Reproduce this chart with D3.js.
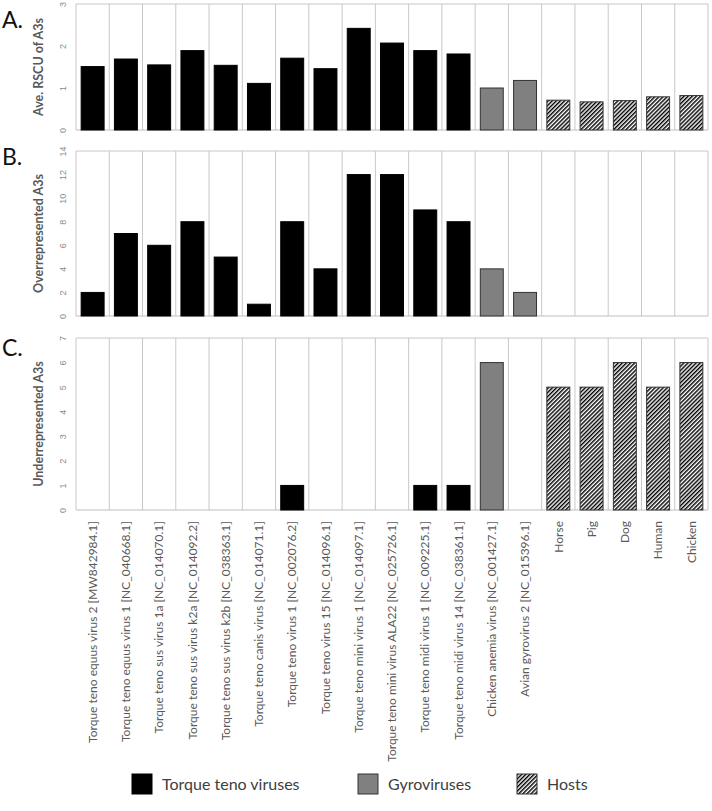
<!DOCTYPE html>
<html>
<head>
<meta charset="utf-8">
<script src="https://cdn.jsdelivr.net/npm/d3@7"></script>
<style>
	body { margin: 0; background: #fff; }
	svg { display: block; font-family: Lato, "Noto Sans", sans-serif; }
</style>
</head>
<body>
<svg id="chart"></svg>
<script>
// categories and their group (0 = torque teno, 1 = gyro, 2 = host)
const categories = [
	"Torque teno equus virus 2 [MW842984.1]",
	"Torque teno equus virus 1 [NC_040668.1]",
	"Torque teno sus virus 1a [NC_014070.1]",
	"Torque teno sus virus k2a [NC_014092.2]",
	"Torque teno sus virus k2b [NC_038363.1]",
	"Torque teno canis virus [NC_014071.1]",
	"Torque teno virus 1 [NC_002076.2]",
	"Torque teno virus 15 [NC_014096.1]",
	"Torque teno mini virus 1 [NC_014097.1]",
	"Torque teno mini virus ALA22 [NC_025726.1]",
	"Torque teno midi virus 1 [NC_009225.1]",
	"Torque teno midi virus 14 [NC_038361.1]",
	"Chicken anemia virus [NC_001427.1]",
	"Avian gyrovirus 2 [NC_015396.1]",
	"Horse", "Pig", "Dog", "Human", "Chicken"
];
const groups = [0,0,0,0,0,0,0,0,0,0,0,0,1,1,2,2,2,2,2];
const groupNames = ["Torque teno viruses", "Gyroviruses", "Hosts"];

const rscu = [1.51, 1.69, 1.55, 1.89, 1.54, 1.11, 1.71, 1.46, 2.42, 2.07, 1.89, 1.81, 1.00, 1.18, 0.71, 0.67, 0.70, 0.79, 0.82];
const overrep = [2, 7, 6, 8, 5, 1, 8, 4, 12, 12, 9, 8, 4, 2, 0, 0, 0, 0, 0];
const underrep = [0, 0, 0, 0, 0, 0, 1, 0, 0, 0, 1, 1, 6, 0, 5, 5, 6, 5, 6];

const ticksA = [0, 1, 2, 3];
const ticksB = [0, 2, 4, 6, 8, 10, 12, 14];
const ticksC = [0, 1, 2, 3, 4, 5, 6, 7];

const width = 712;
const height = 811;
const left = 76;
const right = 708;
const barPad = 0.31;

const svg = d3.select("#chart")
              .attr("width", width)
              .attr("height", height);

// hatch pattern for hosts
svg.append("defs").append("pattern")
   .attr("id", "hatch")
   .attr("patternUnits", "userSpaceOnUse")
   .attr("width", 2.9)
   .attr("height", 10)
   .attr("patternTransform", "rotate(45)")
   .call(p => p.append("rect").attr("width", 2.9).attr("height", 10).attr("fill", "#fff"))
   .call(p => p.append("rect").attr("width", 1.45).attr("height", 10).attr("fill", "#000"));

const fills = ["#000", "#808080", "url(#hatch)"];
const strokes = ["#000", "#333", "#333"];

const xScale = d3.scaleBand(categories, [left, right])
                 .paddingInner(barPad)
                 .paddingOuter(barPad / 2);
const step = xScale.step();

const panels = [
	{ letter: "A.", title: "Ave. RSCU of A3s", data: rscu, ticks: ticksA, range: [130, 4], letterY: 28 },
	{ letter: "B.", title: "Overrepresented A3s", data: overrep, ticks: ticksB, range: [316, 151], letterY: 165 },
	{ letter: "C.", title: "Underrepresented A3s", data: underrep, ticks: ticksC, range: [510, 338], letterY: 356 },
];

panels.forEach(p => {
	const yScale = d3.scaleLinear([0, d3.max(p.ticks)], p.range);
	const g = svg.append("g");

	// vertical gridlines at category boundaries
	g.append("g")
	 .selectAll("line")
	 .data(d3.range(categories.length + 1))
	 .join("line")
	 .attr("x1", i => left + i * step)
	 .attr("x2", i => left + i * step)
	 .attr("y1", p.range[0])
	 .attr("y2", p.range[1])
	 .attr("stroke", "#c8c8c8")
	 .attr("stroke-width", 1);

	// top and bottom border
	g.append("line")
	 .attr("x1", left).attr("x2", right)
	 .attr("y1", yScale(d3.max(p.ticks))).attr("y2", yScale(d3.max(p.ticks)))
	 .attr("stroke", "#c8c8c8");
	g.append("line")
	 .attr("x1", left).attr("x2", right)
	 .attr("y1", yScale(0)).attr("y2", yScale(0))
	 .attr("stroke", "#bfbfbf")
	 .attr("stroke-width", 1.2);

	// bars
	g.append("g")
	 .selectAll("rect")
	 .data(p.data.map((v, i) => ({ v, i })).filter(d => d.v > 0))
	 .join("rect")
	 .attr("x", d => xScale(categories[d.i]))
	 .attr("y", d => yScale(d.v))
	 .attr("width", xScale.bandwidth())
	 .attr("height", d => yScale(0) - yScale(d.v))
	 .attr("fill", d => fills[groups[d.i]])
	 .attr("stroke", d => strokes[groups[d.i]])
	 .attr("stroke-width", 1);

	// y axis with rotated tick labels
	const yAxis = d3.axisLeft(yScale).tickValues(p.ticks).tickFormat(d3.format("d")).tickSize(0).tickPadding(0);
	g.append("g")
	 .attr("transform", `translate(${left}, 0)`)
	 .call(yAxis)
	 .call(a => a.select(".domain").remove())
	 .call(a => a.selectAll("text")
	             .attr("transform", "translate(-13, 0) rotate(-90)")
	             .attr("x", 0)
	             .attr("dy", "0.35em")
	             .attr("text-anchor", "middle")
	             .attr("fill", "#8c8c8c")
	             .attr("font-size", 9));

	// axis title
	g.append("text")
	 .attr("transform", `translate(39, ${(p.range[0] + p.range[1]) / 2}) rotate(-90)`)
	 .attr("text-anchor", "middle")
	 .attr("dy", "0.35em")
	 .attr("font-weight", "bold")
	 .attr("font-size", 12.5)
	 .attr("fill", "#595959")
	 .text(p.title);

	// panel letter
	g.append("text")
	 .attr("x", 2)
	 .attr("y", p.letterY)
	 .attr("font-size", 23)
	 .attr("fill", "#111")
	 .text(p.letter);
});

// category labels
svg.append("g")
   .selectAll("text")
   .data(categories)
   .join("text")
   .attr("transform", d => `translate(${xScale(d) + xScale.bandwidth() / 2}, 521) rotate(-90)`)
   .attr("text-anchor", "end")
   .attr("dy", "0.35em")
   .attr("font-size", 12)
   .attr("fill", "#595959")
   .text(d => d);

// legend
const legendX = [132, 358, 517];
const legend = svg.append("g")
                  .selectAll("g")
                  .data(groupNames)
                  .join("g")
                  .attr("transform", (d, i) => `translate(${legendX[i]}, 774)`);
legend.append("rect")
      .attr("width", 20)
      .attr("height", 20)
      .attr("fill", (d, i) => fills[i])
      .attr("stroke", (d, i) => strokes[i]);
legend.append("text")
      .attr("x", 30)
      .attr("y", 10)
      .attr("dy", "0.35em")
      .attr("font-size", 16)
      .attr("fill", "#404040")
      .text(d => d);
</script>
</body>
</html>
